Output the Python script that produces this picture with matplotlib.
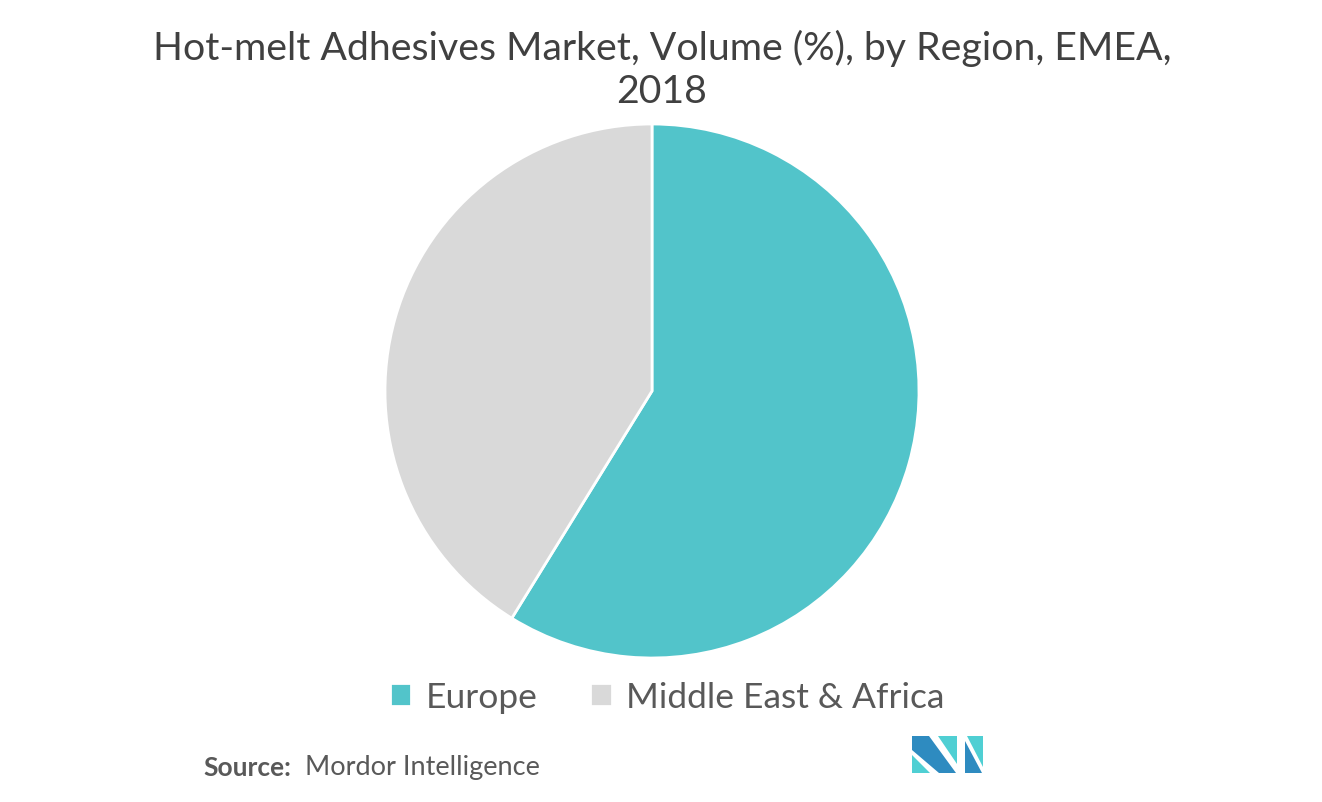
import matplotlib

matplotlib.use("Agg")
import matplotlib.pyplot as plt
from matplotlib.patches import Polygon

plt.rcParams["font.family"] = ["Lato", "DejaVu Sans"]

regions = ["Europe", "Middle East & Africa"]
shares = [58.8, 41.2]
colors = ["#52C4CA", "#D9D9D9"]
title = "Hot-melt Adhesives Market, Volume (%), by Region, EMEA,\n2018"

W, H = 1322, 803
fig = plt.figure(figsize=(W / 100, H / 100), dpi=100)

# pie axes: centre (652, 392) px, radius 267 px
cx, cy, r = 652, 392, 267
ax = fig.add_axes([(cx - r) / W, (H - cy - r) / H, 2 * r / W, 2 * r / H])
wedges, _ = ax.pie(
    shares,
    colors=colors,
    startangle=90,
    counterclock=False,
    radius=1.0,
    wedgeprops=dict(edgecolor="white", linewidth=2),
)
ax.set_xlim(-1.0, 1.0)
ax.set_ylim(-1.0, 1.0)
ax.set_aspect("equal")
ax.axis("off")

fig.text(662 / W, 1 - 70 / H, title, ha="center", va="center",
         fontsize=28.3, color="#404040", linespacing=1.25)

fig.legend(wedges, regions, loc="center", bbox_to_anchor=(667 / W, 1 - 698 / H),
           ncol=2, frameon=False, fontsize=25.5, labelcolor="#595959",
           handlelength=0.6, handleheight=0.6, handletextpad=0.4, columnspacing=1.5)

fig.text(203 / W, 1 - 768 / H, "Source:", ha="left", va="center",
         fontsize=19, fontweight="bold", color="#595959")
fig.text(305 / W, 1 - 768 / H, "Mordor Intelligence", ha="left", va="center",
         fontsize=19.5, color="#595959")


# logo
def px(pts):
    return [(x / W, 1 - y / H) for x, y in pts]


logo = [
    ([(912, 737), (929, 737), (956, 774), (939, 774), (912, 751)], "#2E8BC0"),
    ([(912, 756), (930, 774), (912, 774)], "#4FCFD3"),
    ([(938, 737), (957, 737), (957, 765)], "#4FCFD3"),
    ([(967, 737), (983, 737), (983, 768)], "#4FCFD3"),
    ([(965, 742), (982, 774), (965, 774)], "#2E8BC0"),
]
for pts, col in logo:
    fig.patches.append(Polygon(px(pts), closed=True, transform=fig.transFigure,
                               facecolor=col, edgecolor="none"))

fig.savefig("out.png", dpi=100)
